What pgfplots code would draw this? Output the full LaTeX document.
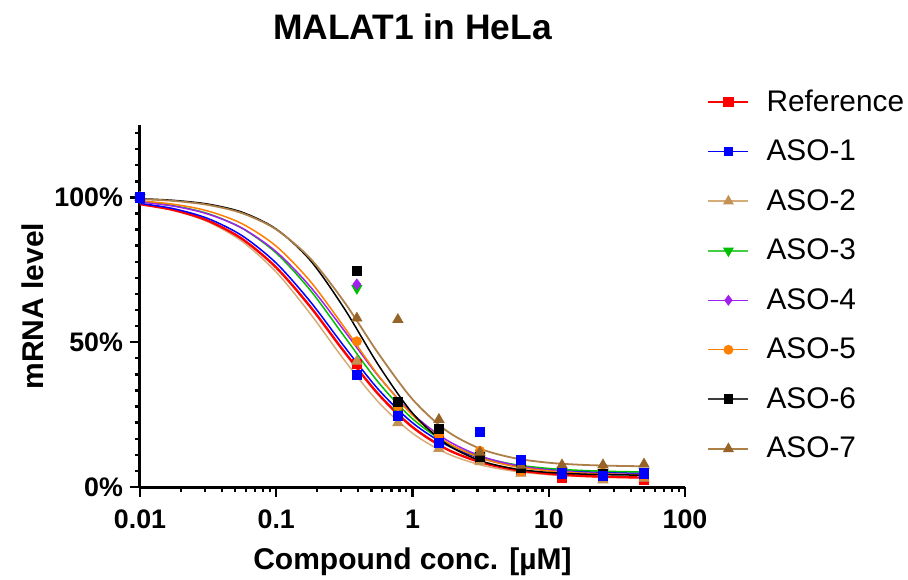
\documentclass[border=0pt]{standalone}
\usepackage{fontspec}
\setmainfont{Liberation Sans}
\usepackage{pgfplots}
\usepackage{pgfplotstable}
\pgfplotsset{compat=1.18}

\definecolor{cref}{RGB}{255,0,0}
\definecolor{cone}{RGB}{0,0,255}
\definecolor{ctwo}{RGB}{196,146,84}
\definecolor{ctwoL}{RGB}{214,172,120}
\definecolor{cthree}{RGB}{0,190,0}
\definecolor{cthreeL}{RGB}{70,205,70}
\definecolor{cfour}{RGB}{160,32,240}
\definecolor{cfive}{RGB}{255,128,0}
\definecolor{csix}{RGB}{0,0,0}
\definecolor{csixL}{RGB}{60,60,60}
\definecolor{cseven}{RGB}{150,100,40}
\definecolor{csevenL}{RGB}{172,128,72}

% fitted curves
\pgfplotstableread{
x       ref    a1     a2     a3     a4     a5     a6     a7
0.01    97.67  97.94  97.63  98.53  98.41  98.81  99.54  99.44
0.01778 95.62  96.08  95.48  97.11  96.96  97.62  98.97  98.78
0.03162 91.94  92.68  91.56  94.37  94.24  95.28  97.68  97.40
0.05623 85.65  86.76  84.80  89.33  89.37  90.89  94.87  94.54
0.1     75.78  77.30  74.20  80.76  81.24  83.14  89.06  88.92
0.1778  62.24  64.02  59.83  67.94  69.16  71.02  78.26  78.90
0.3162  46.65  48.47  43.79  51.97  53.92  55.13  61.59  63.84
0.5623  32.02  33.68  29.31  36.13  38.29  38.51  42.11  46.08
1       20.68  22.17  18.55  23.56  25.29  24.79  25.52  30.29
1.778   13.10  14.51  11.65  15.25  16.24  15.51  14.81  19.41
3.162   8.55   9.94   7.64   10.40  10.69  10.03  9.07   13.17
5.623   5.98   7.39   5.44   7.77   7.55   7.07   6.29   9.95
10      4.58   6.01   4.26   6.40   5.86   5.54   5.02   8.38
17.78   3.83   5.29   3.65   5.70   4.96   4.76   4.45   7.64
31.62   3.44   4.91   3.34   5.35   4.50   4.38   4.20   7.30
50      3.26   4.74   3.20   5.20   4.29   4.22   4.10   7.16
}\curves

% measured points
\pgfplotstableread{
x        ref   a1    a2    a3    a4    a5    a6    a7
0.01     100   100   100   100   100   100   100   100
0.390625 42.4  38.6  43.4  68.6  70.0  50.3  74.5  58.3
0.78125  26.9  24.5  22.2  26.5  27.7  28.0  29.5  57.8
1.5625   17.2  15.3  13.3  18.5  19.7  18.0  20.2  23.3
3.125    10.0  18.9  8.7   10.7  11.5  12.5  10.5  12.0
6.25     6.0   9.3   4.7   6.5   6.5   5.5   6.5   7.5
12.5     3.2   4.7   4.2   5.5   5.5   6.0   5.0   7.6
25       3.5   3.8   2.4   5.0   4.5   5.0   4.5   7.6
50       2.5   4.7   3.0   5.5   4.5   4.0   4.5   7.9
}\points

\begin{document}
\begin{tikzpicture}
\begin{axis}[
  name=ax,
  scale only axis,
  width=272.5pt,
  height=181pt,
  xmode=log,
  xmin=0.01, xmax=100,
  ymin=0, ymax=125,
  clip=false,
  axis lines=left,
  axis line style={-, line width=1.5pt},
  xtick={0.01,0.1,1,10,100},
  xticklabels={0.01,0.1,1,10,100},
  minor xtick={0.02,0.03,0.04,0.05,0.06,0.07,0.08,0.09,0.2,0.3,0.4,0.5,0.6,0.7,0.8,0.9,2,3,4,5,6,7,8,9,20,30,40,50,60,70,80,90},
  ytick={0,50,100},
  yticklabels={0\%,50\%,100\%},
  minor ytick={5.556,11.111,16.667,22.222,27.778,33.333,38.889,44.444,55.556,61.111,66.667,72.222,77.778,83.333,88.889,94.444,105.556,111.111,116.667,122.222},
  tick align=outside,
  major tick length=5pt,
  minor tick length=2.5pt,
  tick style={black, line width=1.2pt},
  ticklabel style={font=\fontsize{13.4}{16}\selectfont\bfseries},
  xticklabel style={yshift=-3pt},
  xlabel={Compound conc. [µM]},
  ylabel={mRNA level},
  label style={font=\fontsize{15}{18}\selectfont\bfseries},
  xlabel style={at={(0.5,-0.229)}, anchor=base},
  ylabel style={at={(-0.196,0.5)}, anchor=center},
  title={MALAT1 in HeLa},
  title style={at={(0.5,1.204)}, anchor=base, font=\fontsize{17.7}{21}\selectfont\bfseries},
  legend style={at={(1.04,1.11)}, anchor=north west, draw=none, fill=none, inner sep=0pt,
    font=\fontsize{14.9}{17}\selectfont, row sep=8.85pt,
    /tikz/every odd column/.append style={column sep=6.5pt}},
  legend cell align=left,
  legend image code/.code={\draw[mark repeat=2,mark phase=2] plot coordinates {(0pt,0pt)(10pt,0pt)(20pt,0pt)};},
]
% legend
\addlegendimage{color=cref, line width=1.2pt, mark=square*, mark size=2pt, mark options={fill=cref}}
\addlegendentry{Reference}
\addlegendimage{color=cone, line width=0.7pt, mark=square*, mark size=2pt, mark options={fill=cone}}
\addlegendentry{ASO-1}
\addlegendimage{color=ctwoL, line width=0.8pt, mark=triangle*, mark size=2.4pt, mark options={draw=ctwo, fill=ctwo}}
\addlegendentry{ASO-2}
\addlegendimage{color=cthreeL, line width=0.8pt, mark=triangle*, mark size=2.4pt, mark options={draw=cthree, fill=cthree, rotate=180}}
\addlegendentry{ASO-3}
\addlegendimage{color=cfour, line width=0.7pt, mark=diamond*, mark size=2.2pt, mark options={fill=cfour}}
\addlegendentry{ASO-4}
\addlegendimage{color=cfive, line width=0.7pt, mark=*, mark size=2.1pt, mark options={fill=cfive}}
\addlegendentry{ASO-5}
\addlegendimage{color=csixL, line width=0.8pt, mark=square*, mark size=2pt, mark options={draw=black, fill=black}}
\addlegendentry{ASO-6}
\addlegendimage{color=csevenL, line width=0.8pt, mark=triangle*, mark size=2.4pt, mark options={draw=cseven, fill=cseven}}
\addlegendentry{ASO-7}

% curves
\addplot[forget plot, smooth, no marks, color=ctwoL, line width=0.75pt] table[x=x, y=a2] {\curves};
\addplot[forget plot, smooth, no marks, color=cref, line width=1.2pt] table[x=x, y=ref] {\curves};
\addplot[forget plot, smooth, no marks, color=cone, line width=0.75pt] table[x=x, y=a1] {\curves};
\addplot[forget plot, smooth, no marks, color=cthree, line width=0.75pt] table[x=x, y=a3] {\curves};
\addplot[forget plot, smooth, no marks, color=cfour, line width=0.75pt] table[x=x, y=a4] {\curves};
\addplot[forget plot, smooth, no marks, color=cfive, line width=0.75pt] table[x=x, y=a5] {\curves};
\addplot[forget plot, smooth, no marks, color=csix, line width=0.75pt] table[x=x, y=a6] {\curves};
\addplot[forget plot, smooth, no marks, color=csevenL, line width=0.9pt] table[x=x, y=a7] {\curves};

% points
\addplot[forget plot, only marks, mark=square*, mark size=2.3pt, color=cref] table[x=x, y=ref] {\points};
\addplot[forget plot, only marks, mark=triangle*, mark size=2.9pt, color=ctwo] table[x=x, y=a2] {\points};
\addplot[forget plot, only marks, mark=triangle*, mark size=2.9pt, mark options={rotate=180}, color=cthree] table[x=x, y=a3] {\points};
\addplot[forget plot, only marks, mark=diamond*, mark size=2.6pt, color=cfour] table[x=x, y=a4] {\points};
\addplot[forget plot, only marks, mark=*, mark size=2.3pt, color=cfive] table[x=x, y=a5] {\points};
\addplot[forget plot, only marks, mark=square*, mark size=2.3pt, color=csix] table[x=x, y=a6] {\points};
\addplot[forget plot, only marks, mark=triangle*, mark size=2.9pt, color=cseven] table[x=x, y=a7] {\points};
\addplot[forget plot, only marks, mark=square*, mark size=2.3pt, color=cone] table[x=x, y=a1] {\points};
\end{axis}
\pgfresetboundingbox
\path ([shift={(-70pt,-46pt)}]ax.south west) rectangle ([shift={(384pt,243.5pt)}]ax.south west);
\end{tikzpicture}
\end{document}
